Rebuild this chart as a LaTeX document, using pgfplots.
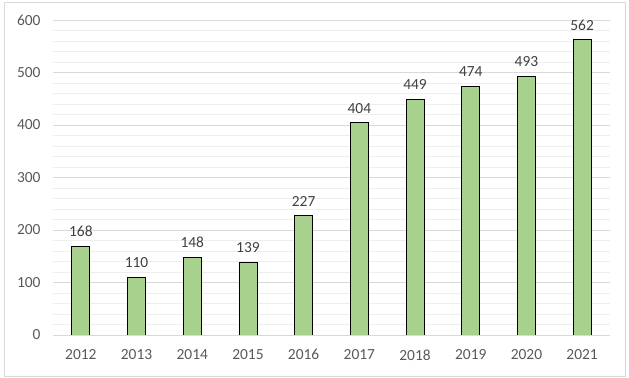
\documentclass[border=0pt]{standalone}
\usepackage{pgfplots}
\pgfplotsset{compat=1.18}
\usepackage{fontspec}
\setmainfont{Carlito}
\definecolor{barfill}{HTML}{A9D18E}
\definecolor{majgrid}{HTML}{D9D9D9}
\definecolor{mingrid}{HTML}{EEEEEE}
\definecolor{ticktext}{HTML}{595959}
\definecolor{labtext}{HTML}{404040}
\begin{document}
\begin{tikzpicture}
\path[use as bounding box] (0,0) rectangle (629bp,378bp);
\draw[majgrid, line width=0.8bp] (4bp,2bp) rectangle (625bp,376bp);
\begin{axis}[
  at={(53bp,43bp)}, anchor=south west,
  scale only axis, width=557bp, height=315bp,
  xmin=-0.5, xmax=9.5, ymin=0, ymax=600,
  xtick=data,
  xticklabels={2012,2013,2014,2015,2016,2017,2018,2019,2020,2021},
  ytick={0,100,...,600},
  minor y tick num=4,
  ymajorgrids, yminorgrids,
  major grid style={majgrid, line width=0.8bp},
  minor grid style={mingrid, line width=0.8bp},
  axis line style={draw=none},
  axis x line*=bottom,
  major tick length=0pt, minor tick length=0pt,
  tick style={draw=none},
  ticklabel style={font=\fontsize{15.5}{18}\selectfont, text=ticktext},
  /pgf/number format/assume math mode=true,
  xticklabel style={yshift=-11bp},
  yticklabel style={xshift=-9bp},
  nodes near coords,
  every node near coord/.append style={font=\fontsize{15.5}{18}\selectfont, text=labtext, yshift=6bp},
  clip=false,
]
\addplot[ybar, bar width=18bp, fill=barfill, draw=black, line width=0.9bp] coordinates {
(0,168) (1,110) (2,148) (3,139) (4,227) (5,404) (6,449) (7,474) (8,493) (9,562)
};
\draw[majgrid, line width=0.8bp] (axis cs:-0.5,0) -- (axis cs:9.5,0);
\end{axis}
\end{tikzpicture}
\end{document}
